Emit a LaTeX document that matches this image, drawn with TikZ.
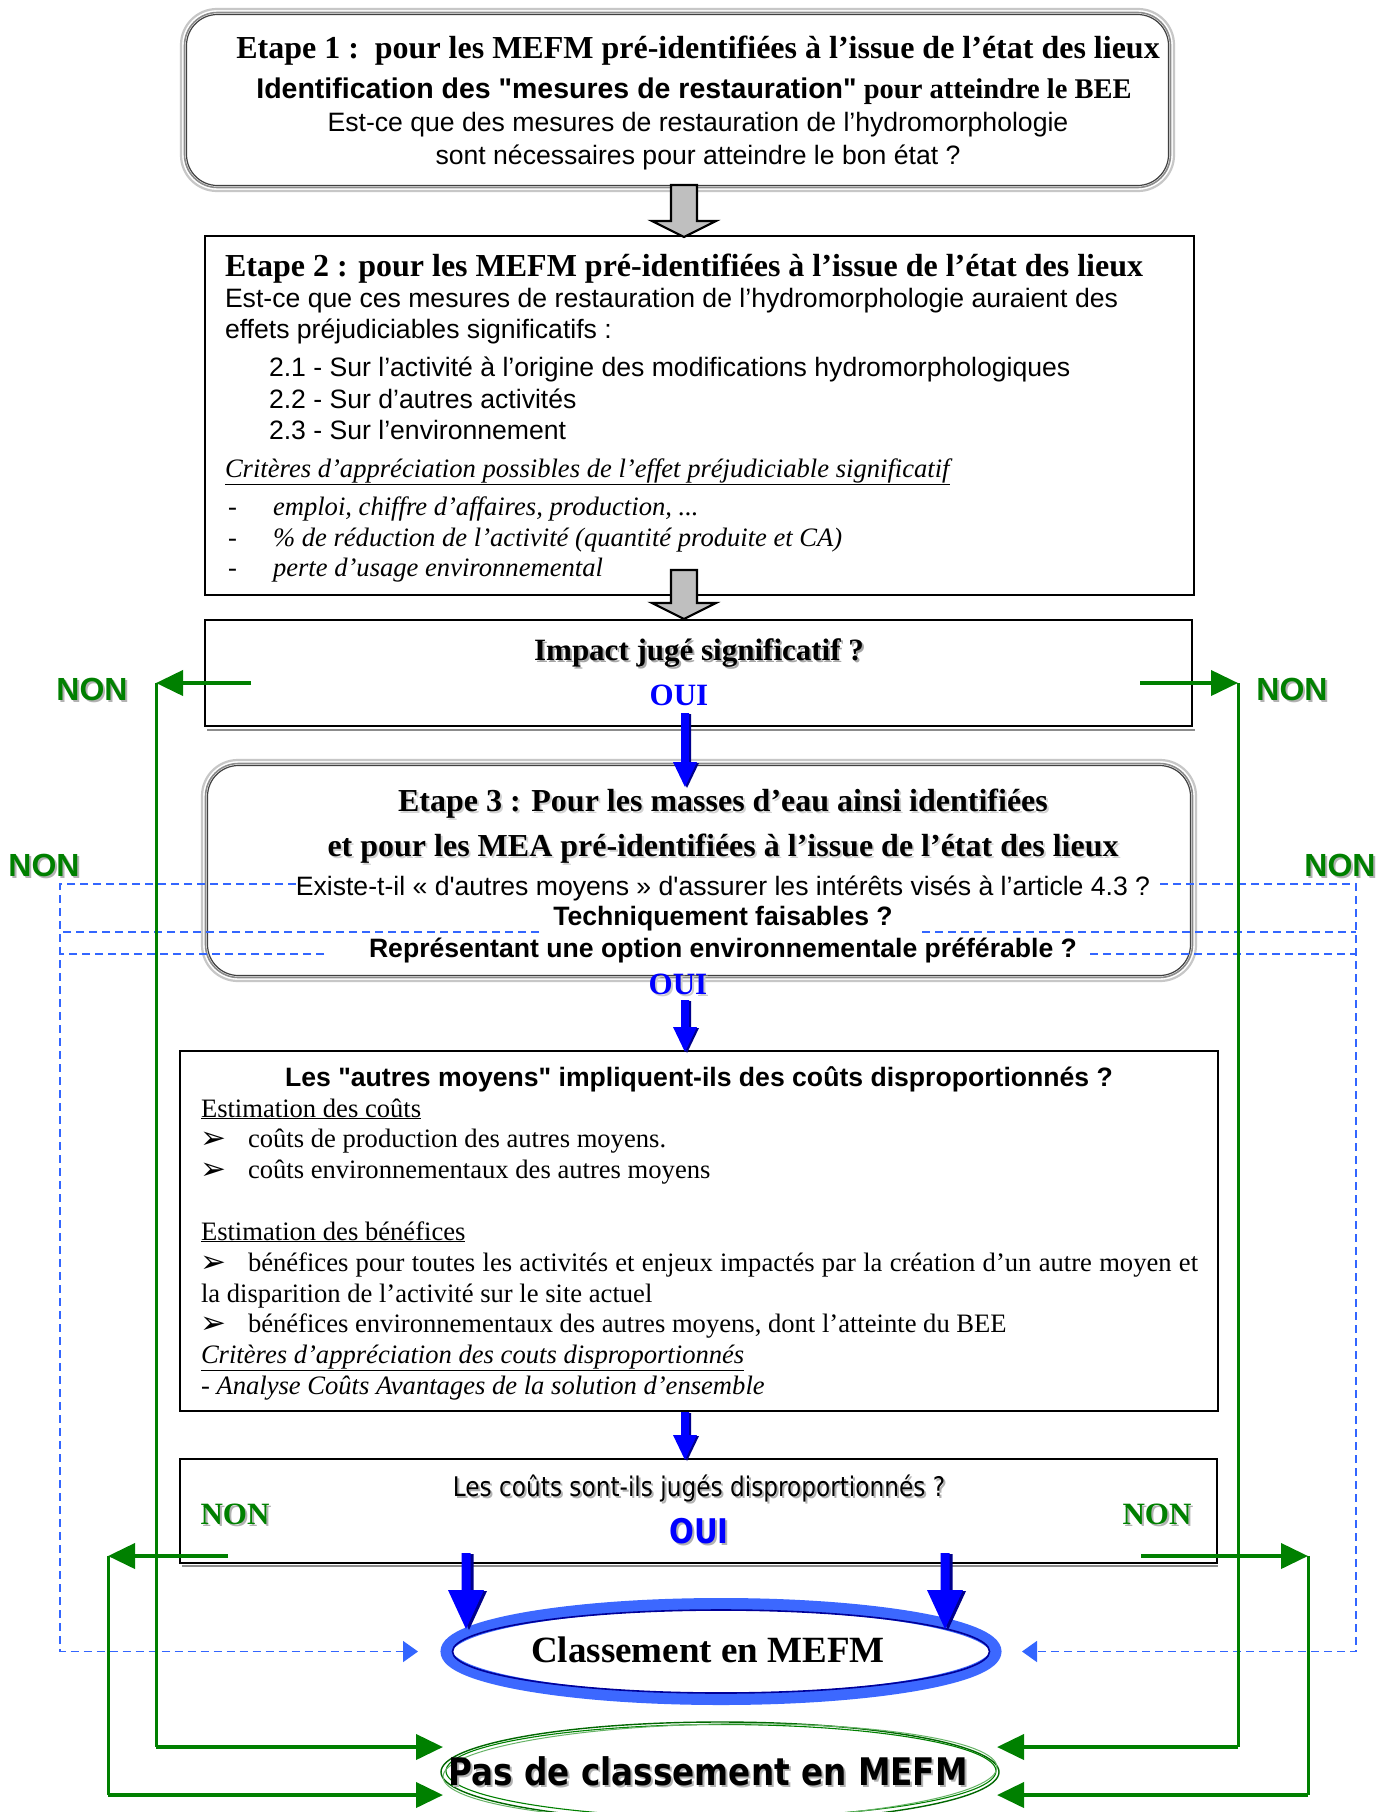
\documentclass[tikz,border=0pt]{standalone}
\usepackage{fontspec}
\setmainfont{Liberation Serif}
\setsansfont{Liberation Sans}[Ligatures=TeXOff]
\newfontfamily\tahoma[FakeStretch=0.86]{DejaVu Sans}
\newfontfamily\symbfont{DejaVu Sans}
\usetikzlibrary{arrows.meta,calc}

\definecolor{ngreen}{RGB}{0,128,0}
\definecolor{dblue}{RGB}{51,102,255}
\definecolor{oblue}{RGB}{0,0,255}
\definecolor{eblue}{RGB}{60,104,255}

\newcommand\fs[1]{\fontsize{#1}{#1}\selectfont}
% text with a soft drop shadow
\newcommand\shd[2][black!35]{\rlap{\kern2pt\raisebox{-2pt}{\color{#1}#2}}#2}
% vertical block arrow: [offset]{style}{from}{to}{shaft half width}{head half width}{head length}
\newcommand\blockdown[7][0,0]{%
  \path[#2] let \p1=($(#3)+(#1)$), \p2=($(#4)+(#1)$) in
    (\x1-#5,\y1) -- (\x1+#5,\y1) -- (\x1+#5,\y2+#7) -- (\x1+#6,\y2+#7)
    -- (\x1,\y2) -- (\x1-#6,\y2+#7) -- (\x1-#5,\y2+#7) -- cycle;}

\begin{document}
\begin{tikzpicture}[x=1pt,y=-1pt,
  every node/.style={inner sep=0pt, outer sep=0pt},
  lt/.style={anchor=base west},
  ct/.style={anchor=base},
  plainbox/.style={draw=black, line width=2pt, fill=white},
  garr/.style={draw=ngreen, line width=4pt, -{Triangle[length=27pt,width=25pt]}},
  gline/.style={draw=ngreen, line width=3pt},
  darr/.style={draw=dblue, line width=1.6pt, dash pattern=on 8pt off 5pt, -{Triangle[length=15pt,width=21pt]}},
  dline/.style={draw=dblue, line width=1.6pt, dash pattern=on 8pt off 5pt},
  grayarrow/.style={fill=black!25, draw=black, line width=2.2pt, line join=miter},
  bluearrow/.style={fill=oblue},
  blueshade/.style={fill=blue!55!black},
  body/.style={font=\sffamily\fs{26.6}},
  serifbody/.style={font=\fs{26.6}},
  bullet/.style={anchor=base west, font=\symbfont\fs{31}},
]
\fill[white] (0,0) rectangle (1390,1812);
\useasboundingbox (0,0) rectangle (1390,1812);

% ---------- Etape 1 ----------
\node[draw=black!22, line width=2.2pt, rounded corners=36pt, minimum width=993pt, minimum height=182pt, fill=white] (e1) at (677.5,100) {};
\node[draw=black!45, line width=1.6pt, rounded corners=33pt, minimum width=986pt, minimum height=175pt] (e1m) at (677.5,100) {};
\node[draw=black!75, line width=1.2pt, rounded corners=31pt, minimum width=982pt, minimum height=171pt] (e1i) at (677.5,100) {};
\node[ct] (e1t1) at (698,58) {\bfseries\fs{32}Etape 1 :\ \ pour les MEFM pré-identifiées à l’issue de l’état des lieux};
\node[ct] (e1t2) at (694,98) {\bfseries\fs{28.5}{\sffamily Identification des "mesures de restauration"} pour atteindre le BEE};
\node[ct, body] (e1t3) at (698,131) {Est-ce que des mesures de restauration de l’hydromorphologie};
\node[ct, body] (e1t4) at (698,164) {sont nécessaires pour atteindre le bon état ?};

% ---------- Etape 2 ----------
\node[plainbox, minimum width=989pt, minimum height=359pt] (e2) at (699.5,415.5) {};
\node[lt] (e2t1) at (225,276) {\bfseries\fs{32}Etape 2 : pour les MEFM pré-identifiées à l’issue de l’état des lieux};
\node[lt, body] (e2t2) at (225,307) {Est-ce que ces mesures de restauration de l’hydromorphologie auraient des};
\node[lt, body] (e2t3) at (225,338) {effets préjudiciables significatifs :};
\node[lt, body] (e2t4) at (269,376) {2.1 - Sur l’activité à l’origine des modifications hydromorphologiques};
\node[lt, body] (e2t5) at (269,408) {2.2 - Sur d’autres activités};
\node[lt, body] (e2t6) at (269,439) {2.3 - Sur l’environnement};
\node[lt, serifbody] (e2t7) at (225,477) {\itshape\underline{Critères d’appréciation possibles de l’effet préjudiciable significatif}};
\node[lt, serifbody] (e2d1) at (228,515) {-};
\node[lt, serifbody] (e2t8) at (273,515) {\itshape emploi, chiffre d’affaires, production, ...};
\node[lt, serifbody] (e2d2) at (228,546) {-};
\node[lt, serifbody] (e2t9) at (273,546) {\itshape \% de réduction de l’activité (quantité produite et CA)};
\node[lt, serifbody] (e2d3) at (228,576) {-};
\node[lt, serifbody] (e2t10) at (273,576) {\itshape perte d’usage environnemental};

% ---------- Impact ----------
\draw[black!45, line width=2pt] (207,729.5) -- (1195,729.5);
\node[plainbox, minimum width=987pt, minimum height=106pt] (imp) at (698.5,673) {};
\node[ct] (impq) at (699,660) {\bfseries\fs{31}\shd{Impact jugé significatif ?}};
\node[ct] (impo) at (679,705) {\bfseries\fs{31}\color{oblue}OUI};

% ---------- Etape 3 ----------
\node[draw=black!22, line width=2.2pt, rounded corners=36pt, minimum width=994pt, minimum height=221pt, fill=white] (e3) at (699,870.5) {};
\node[draw=black!45, line width=1.6pt, rounded corners=33pt, minimum width=987pt, minimum height=214pt] (e3m) at (699,870.5) {};
\node[draw=black!75, line width=1.2pt, rounded corners=31pt, minimum width=983pt, minimum height=210pt] (e3i) at (699,870.5) {};
\node[ct] (e3t1) at (723,811) {\bfseries\fs{32}\shd[black!18]{Etape 3 : Pour les masses d’eau ainsi identifiées}};
\node[ct] (e3t2) at (723,856) {\bfseries\fs{32}\shd[black!18]{et pour les MEA pré-identifiées à l’issue de l’état des lieux}};
\node[ct, body] (e3t3) at (723,895) {Existe-t-il « d'autres moyens » d'assurer les intérêts visés à l’article 4.3 ?};
\node[ct, body] (e3t4) at (723,925) {\bfseries Techniquement faisables ?};
\node[ct, body] (e3t5) at (723,957) {\bfseries Représentant une option environnementale préférable ?};
\node[ct] (e3o) at (678,994) {\bfseries\fs{31}\color{oblue}\shd[black!20]{OUI}};

% ---------- Costs ----------
\node[draw=black, line width=1.6pt, fill=white, minimum width=1038pt, minimum height=360pt] (cost) at (699,1231) {};
\node[ct, body] (c1) at (699,1086) {\bfseries Les "autres moyens" impliquent-ils des coûts disproportionnés ?};
\node[lt, serifbody] (c2) at (201,1117) {\underline{Estimation des coûts}};
\node[bullet] (c3b) at (200,1148) {➢};
\node[lt, serifbody] (c3) at (248,1147) {coûts de production des autres moyens.};
\node[bullet] (c4b) at (200,1179) {➢};
\node[lt, serifbody] (c4) at (248,1178) {coûts environnementaux des autres moyens};
\node[lt, serifbody] (c5) at (201,1240) {\underline{Estimation des bénéfices}};
\node[bullet] (c6b) at (200,1272) {➢};
\node[lt, serifbody] (c6) at (248,1271) {\makebox[950pt][s]{bénéfices pour toutes les activités et enjeux impactés par la création d’un autre moyen et}};
\node[lt, serifbody] (c7) at (201,1302) {la disparition de l’activité sur le site actuel};
\node[bullet] (c8b) at (200,1333) {➢};
\node[lt, serifbody] (c8) at (248,1332) {bénéfices environnementaux des autres moyens, dont l’atteinte du BEE};
\node[lt, serifbody] (c9) at (201,1363) {\itshape\underline{Critères d’appréciation des couts disproportionnés}};
\node[lt, serifbody] (c10) at (201,1394) {\itshape - Analyse Coûts Avantages de la solution d’ensemble};

% ---------- Final question ----------
\draw[black!45, line width=2pt] (182,1565.5) -- (1218,1565.5);
\node[draw=black, line width=1.6pt, fill=white, minimum width=1037pt, minimum height=104pt] (last) at (698.5,1511) {};
\node[ct] (lq) at (699,1496) {\tahoma\fs{27}\shd[black!30]{Les coûts sont-ils jugés disproportionnés ?}};
\node[ct] (lo) at (699,1543) {\tahoma\bfseries\fs{34}\color{oblue}\shd[black!30]{OUI}};
\node[ct] (lnl) at (235,1524) {\bfseries\fs{31}\color{ngreen}\shd[black!30]{NON}};
\node[ct] (lnr) at (1157,1524) {\bfseries\fs{31}\color{ngreen}\shd[black!30]{NON}};

% ---------- Outcomes ----------
\draw[eblue, line width=12pt, fill=white] (721,1651.5) ellipse [x radius=274.5, y radius=47.5];
\draw[blue!60!black, line width=1.6pt] (721,1651.5) ellipse [x radius=268.5, y radius=41.5];
\node (mefm) at (708,1650) {\bfseries\fs{37}Classement en MEFM};

\draw[ngreen!80!black, line width=1.4pt, fill=white] (720,1772) ellipse [x radius=279, y radius=50];
\draw[ngreen, line width=1.1pt] (721,1771) ellipse [x radius=275, y radius=46.5];
\draw[ngreen!60, line width=1pt, rotate around={1:(720,1772)}] (720,1772) ellipse [x radius=277, y radius=48];
\node (nomefm) at (708,1772) {\tahoma\bfseries\fs{38}\shd[black!30]{Pas de classement en MEFM}};

% ---------- "NON" labels outside ----------
\node[ct] (n1l) at (92,700) {\sffamily\bfseries\fs{32}\color{ngreen}\shd[black!30]{NON}};
\node[ct] (n1r) at (1292,700) {\sffamily\bfseries\fs{32}\color{ngreen}\shd[black!30]{NON}};
\node[ct] (n2l) at (44,876) {\sffamily\bfseries\fs{32}\color{ngreen}\shd[black!30]{NON}};
\node[ct] (n2r) at (1340,876) {\sffamily\bfseries\fs{32}\color{ngreen}\shd[black!30]{NON}};

% ---------- dashed "NON" returns of step 3 ----------
\coordinate (dL1) at (296,884); \coordinate (dL2) at (539,932); \coordinate (dL3) at (324,954);
\coordinate (dR1) at (1160,884); \coordinate (dR2) at (922,932); \coordinate (dR3) at (1090,954);
\coordinate (dLx) at (60,0); \coordinate (dRx) at (1356,0);
\coordinate (dLe) at (418,1651.5); \coordinate (dRe) at (1022,1651.5);
\draw[darr] (dL1) -- (dL1 -| dLx) -- (dLe -| dLx) -- (dLe);
\draw[dline] (dL2) -- (dL2 -| dLx);
\draw[dline] (dL3) -- (dL3 -| dLx);
\draw[darr] (dR1) -- (dR1 -| dRx) -- (dRe -| dRx) -- (dRe);
\draw[dline] (dR2) -- (dR2 -| dRx);
\draw[dline] (dR3) -- (dR3 -| dRx);

% ---------- green "NON" returns ----------
\coordinate (gL1s) at (251,683); \coordinate (gL1c) at (156,683); \coordinate (gL1e) at (443,1747);
\coordinate (gR1s) at (1140,683); \coordinate (gR1c) at (1238,683); \coordinate (gR1e) at (997,1747);
\coordinate (gL2s) at (228,1556); \coordinate (gL2c) at (108,1556); \coordinate (gL2e) at (443,1795);
\coordinate (gR2s) at (1141,1556); \coordinate (gR2c) at (1308,1556); \coordinate (gR2e) at (997,1795);
\foreach \s in {L1,R1,L2,R2}{
  \draw[garr] (g\s s) -- (g\s c);
  \draw[gline] (g\s c) -- (g\s c |- g\s e);
  \draw[garr] (g\s c |- g\s e) -- (g\s e);
}

% ---------- grey step arrows ----------
\coordinate (a1s) at (684,185); \coordinate (a1e) at (684,237);
\coordinate (a2s) at (684,570); \coordinate (a2e) at (684,619);
\blockdown{grayarrow}{a1s}{a1e}{13pt}{32pt}{16pt}
\blockdown{grayarrow}{a2s}{a2e}{13pt}{32pt}{16pt}

% ---------- blue "OUI" arrows ----------
\coordinate (b1s) at (685,713); \coordinate (b1e) at (685,787);
\coordinate (b2s) at (685,1000); \coordinate (b2e) at (685,1052);
\coordinate (b3s) at (685,1412); \coordinate (b3e) at (685,1460);
\coordinate (b4s) at (466,1553); \coordinate (b4e) at (466,1629);
\coordinate (b5s) at (945,1553); \coordinate (b5e) at (945,1629);
\foreach \b in {b1,b2,b3}{
  \blockdown[2,1]{blueshade}{\b s}{\b e}{4pt}{12pt}{25pt}
  \blockdown{bluearrow}{\b s}{\b e}{4pt}{12pt}{25pt}
}
\foreach \b in {b4,b5}{
  \blockdown[3,1]{blueshade}{\b s}{\b e}{4.5pt}{18pt}{39pt}
  \blockdown{bluearrow}{\b s}{\b e}{4.5pt}{18pt}{39pt}
}
\end{tikzpicture}
\end{document}
